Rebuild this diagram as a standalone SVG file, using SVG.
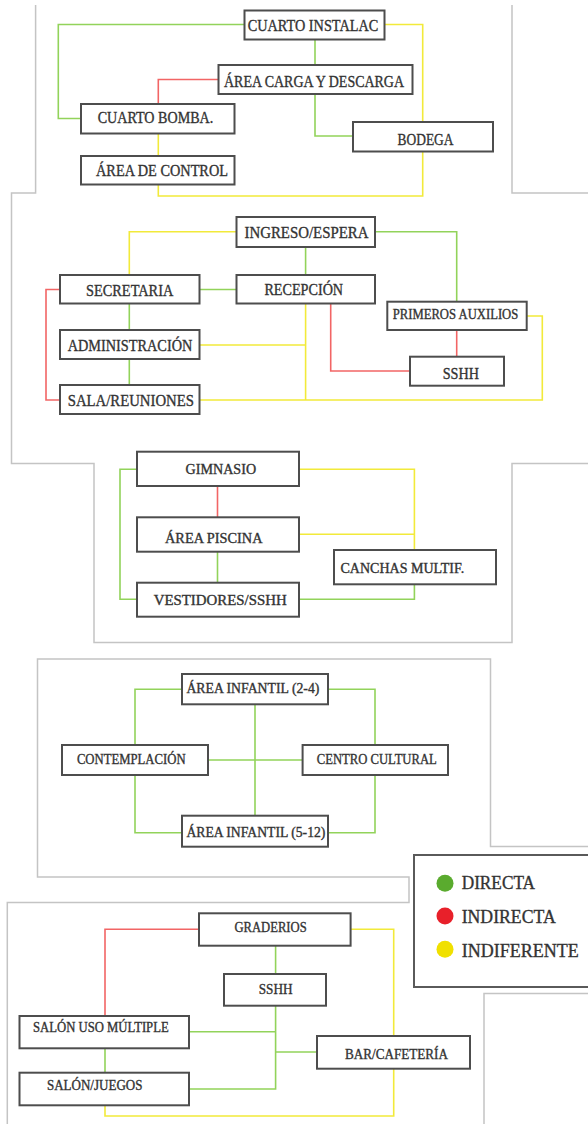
<svg xmlns="http://www.w3.org/2000/svg" width="588" height="1124" viewBox="0 0 588 1124">
<style>
.bg{fill:#ffffff}
.out{fill:none;stroke:#c4c4c4;stroke-width:1.5}
.box{fill:#ffffff;stroke:#4d4d4d;stroke-width:2}
.g{fill:none;stroke:#92d35a;stroke-width:1.6}
.r{fill:none;stroke:#f26565;stroke-width:1.6}
.y{fill:none;stroke:#f2ea3a;stroke-width:1.6}
text{font-family:"Liberation Serif","Times New Roman",serif;fill:#333333;stroke:#333333;stroke-width:0.35}
.t16{font-size:16.5px}
.t14{font-size:14px}
.leg{font-size:18px}
</style>
<rect class="bg" x="0" y="0" width="588" height="1124"/>
<g id="outlines">
<path class="out" d="M35.6,5 V193 H11.5 V463.5 H94 V642.5 H512 V463.5 H588"/>
<path class="out" d="M512,5 V193 H588"/>
<path class="out" d="M588,846.5 H490.5 V659 H37.5 V877 H409 V902.5 H7.3 V1124"/>
<path class="out" d="M588,993.5 H484 V1124"/>
</g>
<g id="connectors">
<path class="g" d="M244.5,24.5 H58.3 V118.5 H81"/>
<path class="g" d="M315,39.5 V65"/>
<path class="r" d="M218.5,79.5 H158.3 V104"/>
<path class="g" d="M315,94 V136 H353"/>
<path class="y" d="M384.5,24.5 H422.7 V122"/>
<path class="y" d="M158.3,133.5 V156"/>
<path class="y" d="M158.3,184.5 V196 H422.7 V151.5"/>
<path class="y" d="M236.5,231.7 H129.3 V275"/>
<path class="g" d="M375,231.7 H456.7 V301.7"/>
<path class="g" d="M305.6,247 V275"/>
<path class="g" d="M199.5,289.5 H236.5"/>
<path class="r" d="M60,289.5 H46 V400 H60"/>
<path class="g" d="M129.3,303.5 V330"/>
<path class="g" d="M129.3,359 V385"/>
<path class="y" d="M305.6,303.5 V400"/>
<path class="y" d="M199.5,345 H305.6"/>
<path class="y" d="M199.5,400 H542.3 V316 H526.7"/>
<path class="r" d="M330.7,303.5 V371 H410"/>
<path class="r" d="M456.7,330 V356.7"/>
<path class="g" d="M137,469.3 H120 V599.3 H137"/>
<path class="r" d="M217.5,486 V517.3"/>
<path class="g" d="M217.5,551.7 V582.7"/>
<path class="y" d="M299,469.3 H414.4 V550"/>
<path class="y" d="M299,534.3 H414.4"/>
<path class="g" d="M299,599.3 H414.4 V584.3"/>
<path class="g" d="M182,689.3 H135 V745"/>
<path class="g" d="M328,689.3 H375 V745"/>
<path class="g" d="M255,704.3 V815.7"/>
<path class="g" d="M208,760 H302.6"/>
<path class="g" d="M135,775 V832.7 H182"/>
<path class="g" d="M375,775 V832.7 H328"/>
<path class="r" d="M199,929.3 H105 V1016"/>
<path class="g" d="M275.6,945.7 V974"/>
<path class="y" d="M350.6,929.3 H393.7 V1036"/>
<path class="g" d="M275.6,1005.7 V1089 H189"/>
<path class="g" d="M189,1031.7 H275.6"/>
<path class="g" d="M317,1052 H275.6"/>
<path class="g" d="M105,1048.3 V1072.7"/>
<path class="y" d="M105,1105.3 V1116 H393.7 V1068.7"/>
</g>
<g id="n-cuarto-instalac"><rect class="box" x="244.5" y="10.5" width="140" height="29"/><text class="t16" x="247.7" y="30.7" textLength="130.6" lengthAdjust="spacingAndGlyphs">CUARTO INSTALAC</text></g>
<g id="n-area-carga"><rect class="box" x="218.5" y="65" width="194" height="29"/><text class="t16" x="224" y="86.7" textLength="180" lengthAdjust="spacingAndGlyphs">ÁREA CARGA Y DESCARGA</text></g>
<g id="n-cuarto-bomba"><rect class="box" x="81" y="104" width="153.5" height="29.5"/><text class="t16" x="97.7" y="123.3" textLength="115.6" lengthAdjust="spacingAndGlyphs">CUARTO BOMBA.</text></g>
<g id="n-bodega"><rect class="box" x="353" y="122" width="140" height="29.5"/><text class="t16" x="397.5" y="145" textLength="56" lengthAdjust="spacingAndGlyphs">BODEGA</text></g>
<g id="n-area-control"><rect class="box" x="81" y="156" width="153.5" height="28.5"/><text class="t16" x="96" y="176" textLength="132" lengthAdjust="spacingAndGlyphs">ÁREA DE CONTROL</text></g>
<g id="n-ingreso"><rect class="box" x="236.5" y="217" width="138.5" height="30"/><text class="t16" x="244.5" y="237.7" textLength="124" lengthAdjust="spacingAndGlyphs">INGRESO/ESPERA</text></g>
<g id="n-secretaria"><rect class="box" x="60" y="275" width="139.5" height="28.5"/><text class="t16" x="86" y="295.7" textLength="87.3" lengthAdjust="spacingAndGlyphs">SECRETARIA</text></g>
<g id="n-recepcion"><rect class="box" x="236.5" y="275" width="138.5" height="28.5"/><text class="t16" x="264.4" y="295" textLength="78.7" lengthAdjust="spacingAndGlyphs">RECEPCIÓN</text></g>
<g id="n-primeros"><rect class="box" x="387.3" y="301.7" width="139.4" height="28.3"/><text class="t14" x="392.7" y="319.3" textLength="125.6" lengthAdjust="spacingAndGlyphs">PRIMEROS AUXILIOS</text></g>
<g id="n-administracion"><rect class="box" x="60" y="330" width="139.5" height="29"/><text class="t16" x="67.7" y="350.7" textLength="124.6" lengthAdjust="spacingAndGlyphs">ADMINISTRACIÓN</text></g>
<g id="n-sshh-1"><rect class="box" x="410" y="356.7" width="94" height="29"/><text class="t16" x="442.7" y="379" textLength="36.3" lengthAdjust="spacingAndGlyphs">SSHH</text></g>
<g id="n-sala"><rect class="box" x="60" y="385" width="139.5" height="29"/><text class="t16" x="67.7" y="405.7" textLength="126.3" lengthAdjust="spacingAndGlyphs">SALA/REUNIONES</text></g>
<g id="n-gimnasio"><rect class="box" x="137" y="451.7" width="162" height="34.3"/><text class="t14" x="185.6" y="474.3" textLength="70.5" lengthAdjust="spacingAndGlyphs">GIMNASIO</text></g>
<g id="n-piscina"><rect class="box" x="137" y="517.3" width="162" height="34.4"/><text class="t14" x="165" y="542.7" textLength="97.5" lengthAdjust="spacingAndGlyphs">ÁREA PISCINA</text></g>
<g id="n-canchas"><rect class="box" x="334" y="550" width="162" height="34.3"/><text class="t14" x="340.5" y="572.7" textLength="123.7" lengthAdjust="spacingAndGlyphs">CANCHAS MULTIF.</text></g>
<g id="n-vestidores"><rect class="box" x="137" y="582.7" width="162" height="34"/><text class="t14" x="153.7" y="605" textLength="133" lengthAdjust="spacingAndGlyphs">VESTIDORES/SSHH</text></g>
<g id="n-infantil-24"><rect class="box" x="182" y="674" width="146" height="30.3"/><text class="t14" x="186.4" y="693.3" textLength="133" lengthAdjust="spacingAndGlyphs">ÁREA INFANTIL (2-4)</text></g>
<g id="n-contemplacion"><rect class="box" x="62" y="745" width="146" height="30"/><text class="t14" x="76.9" y="764.3" textLength="108.7" lengthAdjust="spacingAndGlyphs">CONTEMPLACIÓN</text></g>
<g id="n-centro"><rect class="box" x="302.6" y="745" width="145.4" height="30"/><text class="t14" x="316.8" y="764.3" textLength="120" lengthAdjust="spacingAndGlyphs">CENTRO CULTURAL</text></g>
<g id="n-infantil-512"><rect class="box" x="182" y="815.7" width="146" height="31"/><text class="t14" x="186.4" y="837.3" textLength="139" lengthAdjust="spacingAndGlyphs">ÁREA INFANTIL (5-12)</text></g>
<g id="n-graderios"><rect class="box" x="199" y="913.3" width="151.6" height="32.4"/><text class="t14" x="234.4" y="931.7" textLength="72.3" lengthAdjust="spacingAndGlyphs">GRADERIOS</text></g>
<g id="n-sshh-2"><rect class="box" x="224" y="974" width="102" height="31.7"/><text class="t14" x="258.7" y="994" textLength="33.8" lengthAdjust="spacingAndGlyphs">SSHH</text></g>
<g id="n-salon-uso"><rect class="box" x="19.5" y="1016" width="169.5" height="32.3"/><text class="t14" x="33" y="1031.7" textLength="135.7" lengthAdjust="spacingAndGlyphs">SALÓN USO MÚLTIPLE</text></g>
<g id="n-bar"><rect class="box" x="317" y="1036" width="153" height="32.7"/><text class="t14" x="345" y="1059.3" textLength="103" lengthAdjust="spacingAndGlyphs">BAR/CAFETERÍA</text></g>
<g id="n-salon-juegos"><rect class="box" x="19.5" y="1072.7" width="169.5" height="32.6"/><text class="t14" x="46.9" y="1090" textLength="95.6" lengthAdjust="spacingAndGlyphs">SALÓN/JUEGOS</text></g>
<g id="legend">
<path d="M588,855 H414 V987 H588" fill="#ffffff" stroke="#5a5a5a" stroke-width="2"/>
<circle cx="445" cy="883.3" r="8.5" fill="#5aab2e"/>
<circle cx="445" cy="916" r="8.5" fill="#e8202a"/>
<circle cx="445" cy="949.3" r="8.5" fill="#f0e000"/>
<text class="leg" x="461.7" y="889.3" textLength="73.3" lengthAdjust="spacingAndGlyphs">DIRECTA</text>
<text class="leg" x="461.7" y="922.7" textLength="94" lengthAdjust="spacingAndGlyphs">INDIRECTA</text>
<text class="leg" x="461.7" y="956.7" textLength="117" lengthAdjust="spacingAndGlyphs">INDIFERENTE</text>
</g>
</svg>
